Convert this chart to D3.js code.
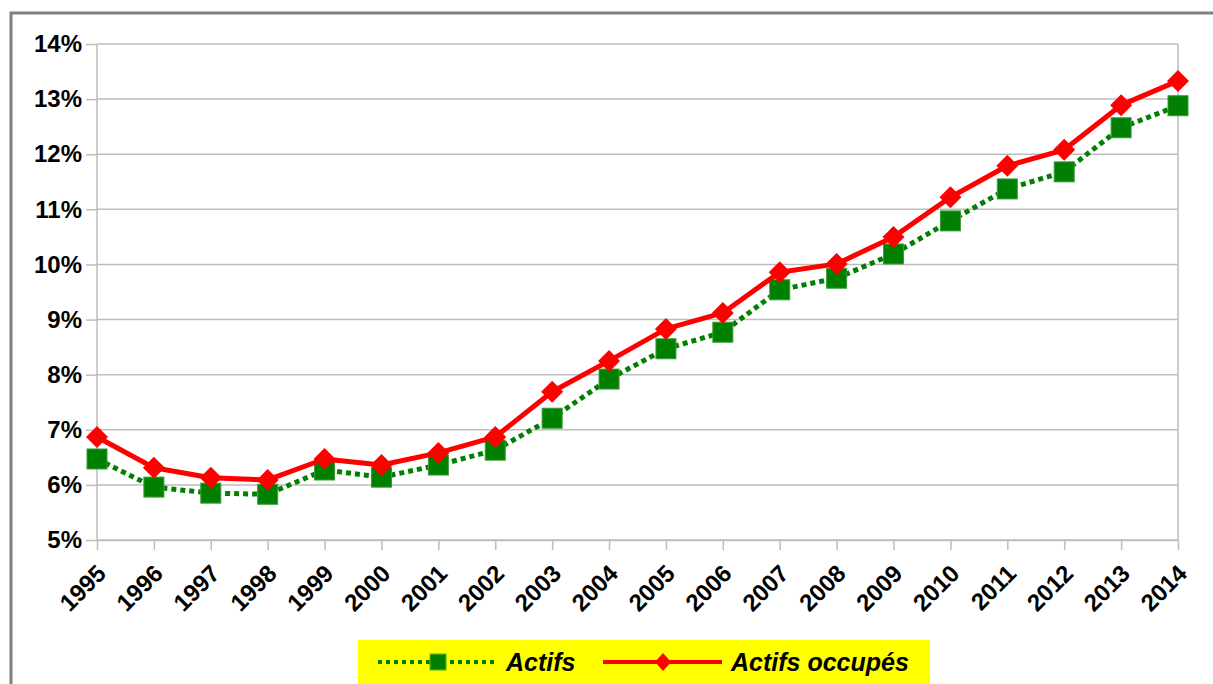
<!DOCTYPE html>
<html><head><meta charset="utf-8">
<script src="https://cdn.jsdelivr.net/npm/d3@7"></script>
<style>
html,body{margin:0;padding:0;background:#fff;}
svg{display:block;font-family:"Liberation Sans",Arial,sans-serif;}
</style></head>
<body>
<svg id="chart" width="1213" height="684"></svg>
<script>
const years = ["1995","1996","1997","1998","1999","2000","2001","2002","2003","2004","2005","2006","2007","2008","2009","2010","2011","2012","2013","2014"];
const actifs = [6.47,5.96,5.85,5.83,6.27,6.14,6.36,6.63,7.21,7.92,8.47,8.77,9.54,9.75,10.19,10.79,11.37,11.68,12.48,12.88];
const actifsOccupes = [6.87,6.31,6.13,6.09,6.47,6.36,6.58,6.87,7.69,8.25,8.83,9.12,9.86,10.01,10.50,11.22,11.79,12.08,12.89,13.33];
const yTicks = [5,6,7,8,9,10,11,12,13,14];
const seriesNames = ["Actifs","Actifs occupés"];

const svg = d3.select("#chart");
const L = 97, R = 1178, T = 44, B = 540;
const x = d3.scalePoint().domain(years).range([L, R]);
const y = d3.scaleLinear().domain([5, 14]).range([B, T]);
const gridCol = "#bdbdbd";

// outer frame
svg.append("rect").attr("x", 11).attr("y", 13).attr("width", 1400).attr("height", 900)
  .attr("fill", "none").attr("stroke", "#808080").attr("stroke-width", 3);

// gridlines
svg.append("g").selectAll("line").data(yTicks).join("line")
  .attr("x1", L).attr("x2", R).attr("y1", d => y(d)).attr("y2", d => y(d))
  .attr("stroke", gridCol).attr("stroke-width", 1.5);
svg.append("line").attr("x1", L).attr("x2", L).attr("y1", T).attr("y2", B).attr("stroke", gridCol).attr("stroke-width", 1.5);
svg.append("line").attr("x1", R).attr("x2", R).attr("y1", T).attr("y2", B).attr("stroke", gridCol).attr("stroke-width", 1.5);

// y axis
const yAxis = svg.append("g").attr("transform", `translate(${L},0)`)
  .call(d3.axisLeft(y).tickValues(yTicks).tickSizeInner(11).tickSizeOuter(0).tickPadding(4).tickFormat(d => d + "%"));
yAxis.select(".domain").remove();
yAxis.selectAll("line").attr("stroke", gridCol).attr("stroke-width", 1.5);
yAxis.selectAll("text").attr("font-size", 24).attr("font-weight", "bold").attr("fill", "#000")
  .attr("font-family", "'Liberation Sans', Arial, sans-serif");

// x axis
const xAxis = svg.append("g").attr("transform", `translate(0,${B})`)
  .call(d3.axisBottom(x).tickSizeInner(10).tickSizeOuter(0).tickPadding(0));
xAxis.select(".domain").attr("stroke", gridCol).attr("stroke-width", 1.5);
xAxis.selectAll("line").attr("stroke", gridCol).attr("stroke-width", 1.5);
xAxis.selectAll("text")
  .attr("font-size", 24).attr("font-weight", "bold").attr("fill", "#000")
  .attr("font-family", "'Liberation Sans', Arial, sans-serif")
  .attr("text-anchor", "end")
  .attr("x", 0).attr("y", 0).attr("dy", "0.35em")
  .attr("transform", "translate(4,29) rotate(-45)");

// lines
const line = d3.line().x((d, i) => x(years[i])).y(d => y(d));
svg.append("path").datum(actifs).attr("d", line)
  .attr("fill", "none").attr("stroke", "#008000").attr("stroke-width", 5).attr("stroke-dasharray", "5,4");
svg.append("g").selectAll("rect").data(actifs).join("rect")
  .attr("x", (d, i) => x(years[i]) - 10).attr("y", d => y(d) - 10)
  .attr("width", 20).attr("height", 20).attr("fill", "#008000").attr("stroke", "#3c9a3c").attr("stroke-width", 1);

svg.append("path").datum(actifsOccupes).attr("d", line)
  .attr("fill", "none").attr("stroke", "#ff0000").attr("stroke-width", 5).attr("stroke-linejoin", "round");
const diamond = "M0,-11L11,0L0,11L-11,0Z";
svg.append("g").selectAll("path").data(actifsOccupes).join("path")
  .attr("transform", (d, i) => `translate(${x(years[i])},${y(d)})`)
  .attr("d", diamond).attr("fill", "#ff0000");

// legend
const lg = svg.append("g");
lg.append("rect").attr("x", 358).attr("y", 640).attr("width", 572).attr("height", 60).attr("fill", "#ffff00");
const ly = 662;
lg.append("line").attr("x1", 378).attr("x2", 498).attr("y1", ly).attr("y2", ly)
  .attr("stroke", "#008000").attr("stroke-width", 4).attr("stroke-dasharray", "4,4");
lg.append("rect").attr("x", 430).attr("y", ly - 8).attr("width", 16).attr("height", 16)
  .attr("fill", "#008000").attr("stroke", "#66b300").attr("stroke-width", 1);
lg.append("text").attr("x", 506).attr("y", ly + 9).text(seriesNames[0])
  .attr("font-size", 25).attr("font-weight", "bold").attr("font-style", "italic");
lg.append("line").attr("x1", 603).attr("x2", 722).attr("y1", ly).attr("y2", ly)
  .attr("stroke", "#ff0000").attr("stroke-width", 4);
lg.append("path").attr("transform", `translate(663,${ly})`).attr("d", "M0,-9L8,0L0,9L-8,0Z").attr("fill", "#ff0000");
lg.append("text").attr("x", 731).attr("y", ly + 9).text(seriesNames[1])
  .attr("font-size", 25).attr("font-weight", "bold").attr("font-style", "italic");
</script>
</body></html>
